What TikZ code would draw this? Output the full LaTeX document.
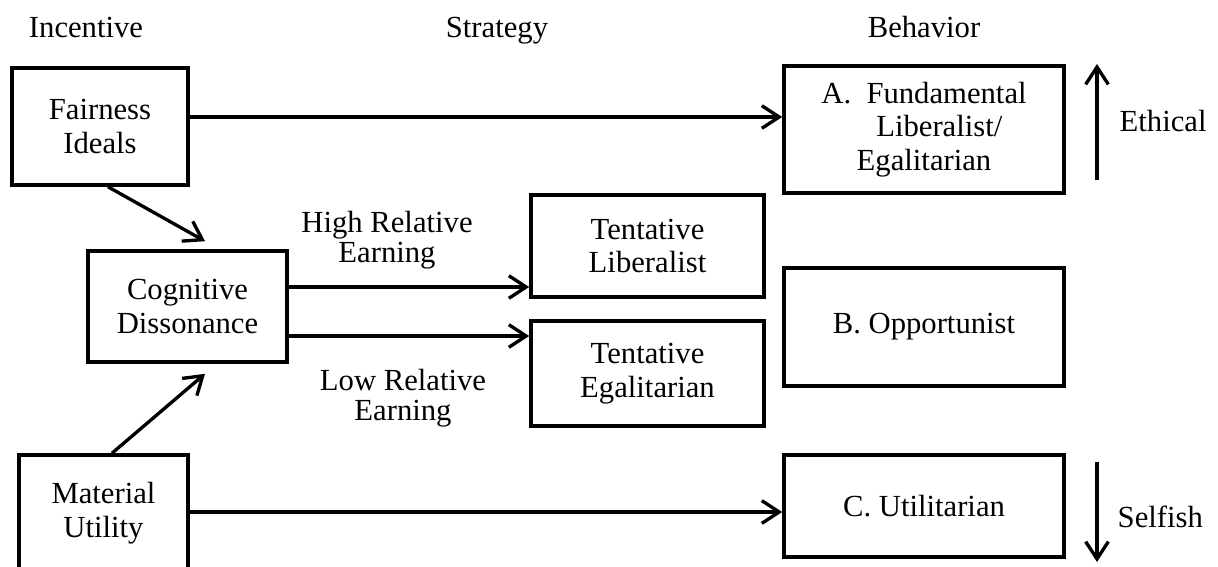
\documentclass[tikz,border=0pt]{standalone}
\usepackage{fontspec}
\setmainfont{Liberation Serif}
\usepackage{tikz}
\usetikzlibrary{arrows.meta,calc}
\newcommand{\mainsz}{\fontsize{23}{25}\selectfont}
\tikzset{
  catbox/.style 2 args={draw=black, line width=2.7pt, align=center, font=\mainsz,
    inner sep=0pt, minimum width=#1, minimum height=#2},
  lbl/.style={align=center, font=\mainsz},
  edgelbl/.style={align=center, font=\fontsize{23}{22.5}\selectfont},
  barbarr/.style={-{Straight Barb[length=13pt,width=17pt]}, line width=2.5pt},
}
\begin{document}
\begin{tikzpicture}[x=0.75pt, y=-0.75pt]
  \useasboundingbox (0,0) rectangle (1218,567);
  % column heads
  \node[lbl, anchor=base] (hInc) at (86,38) {Incentive};
  \node[lbl, anchor=base] (hStr) at (497,38) {Strategy};
  \node[lbl, anchor=base] (hBeh) at (924,38) {Behavior};
  % incentives
  \node[catbox={132pt}{87.75pt}] (fair) at (100,126.5) {Fairness\\Ideals};
  \node[catbox={149.25pt}{83.25pt}] (cog) at (187.5,306.5) {Cognitive\\Dissonance};
  \node[catbox={126.75pt}{87pt}] (mat) at (103.5,513) {Material\\Utility};
  % strategies
  \node[catbox={174.75pt}{76.1pt}] (tlib) at (647.5,246) {Tentative\\Liberalist};
  \node[catbox={174.75pt}{78.75pt}] (tegal) at (647.5,373.5) {Tentative\\Egalitarian};
  % behaviors
  \node[catbox={210pt}{95.25pt}] (behA) at (924,129.5)
    {A.~~Fundamental\\\hspace*{1em}Liberalist/\\Egalitarian};
  \node[catbox={210pt}{88.5pt}] (behB) at (924,327) {B. Opportunist};
  \node[catbox={210pt}{76.5pt}] (behC) at (924,506) {C. Utilitarian};
  % edge labels
  \node[edgelbl] (hiLbl) at (387,240) {High Relative\\Earning};
  \node[edgelbl] (loLbl) at (403,398) {Low Relative\\Earning};
  % scale
  \coordinate (ethLo) at (1097,180);
  \coordinate (ethHi) at (1097,64);
  \coordinate (selHi) at (1097,462);
  \coordinate (selLo) at (1097,562);
  \node[lbl, anchor=base west] (eth) at (1115,132) {Ethical};
  \node[lbl, anchor=base west] (sel) at (1113,527) {Selfish};

  \draw[barbarr] (fair.east |- 0,117) -- (behA.west |- 0,117);
  \draw[barbarr] ($(fair.south)+(8,0)$) -- ($(cog.north)+(17.5,-8)$);
  \draw[barbarr] ($(mat.north)+(8.5,0)$) -- ($(cog.south)+(17.5,10)$);
  \draw[barbarr] (cog.east |- 0,287) -- (tlib.west |- 0,287);
  \draw[barbarr] (cog.east |- 0,336) -- (tegal.west |- 0,336);
  \draw[barbarr] (mat.east |- 0,512) -- (behC.west |- 0,512);
  \draw[barbarr] (ethLo) -- (ethHi);
  \draw[barbarr] (selHi) -- (selLo);
\end{tikzpicture}
\end{document}
